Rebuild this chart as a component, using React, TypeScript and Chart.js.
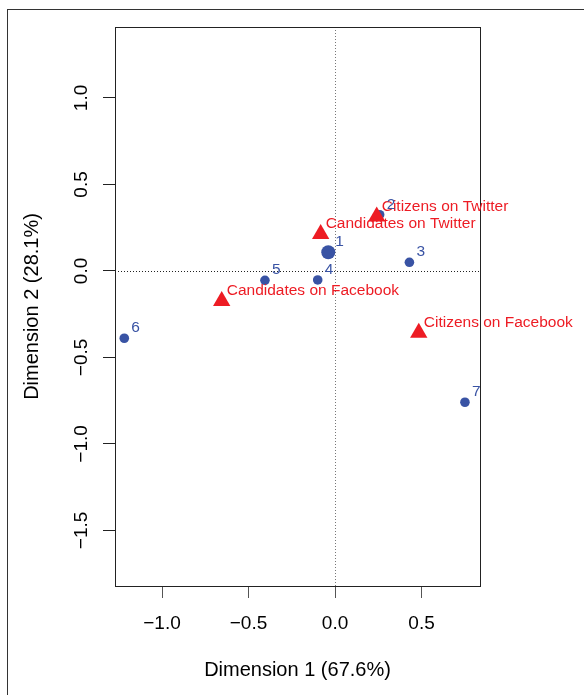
import { useEffect, useRef } from 'react';
import { Chart, registerables } from 'chart.js';

Chart.register(...registerables);

// Row points (blue)
const ROW_LABELS = ['1', '2', '3', '4', '5', '6', '7'];
const ROW_X = [-0.039, 0.258, 0.43, -0.1, -0.405, -1.218, 0.751];
const ROW_Y = [0.108, 0.325, 0.05, -0.052, -0.054, -0.389, -0.759];
const ROW_RADIUS = [7, 4.8, 4.8, 4.8, 4.8, 4.8, 4.8];

// Column points (red triangles)
const COL_LABELS = ['Candidates on Twitter', 'Citizens on Twitter', 'Candidates on Facebook', 'Citizens on Facebook'];
const COL_X = [-0.083, 0.241, -0.655, 0.484];
const COL_Y = [0.214, 0.314, -0.173, -0.357];

const X_TICKS = [-1, -0.5, 0, 0.5];
const Y_TICKS = [-1.5, -1, -0.5, 0, 0.5, 1];
const X_RANGE = [-1.2717, 0.838];
const Y_RANGE = [-1.821, 1.41];
const X_TITLE = 'Dimension 1 (67.6%)';
const Y_TITLE = 'Dimension 2 (28.1%)';

const BLUE = '#3953a4';
const RED = '#ed1c24';
const FONT = '"Liberation Sans", Arial, sans-serif';

const fmt = (v: number) => v.toFixed(1).replace('-', '\u2212');

export default function App() {
  const ref = useRef<HTMLCanvasElement | null>(null);

  useEffect(() => {
    if (!ref.current) return;

    const overlay = {
      id: 'overlay',
      beforeDatasetsDraw(chart: any) {
        const { ctx, chartArea: a, scales } = chart;
        const x0 = scales.x.getPixelForValue(0);
        const y0 = scales.y.getPixelForValue(0);
        ctx.save();
        ctx.lineWidth = 1;
        ctx.setLineDash([1, 2]);
        ctx.strokeStyle = '#777';
        ctx.beginPath();
        ctx.moveTo(Math.round(x0) + 0.5, a.top);
        ctx.lineTo(Math.round(x0) + 0.5, a.bottom);
        ctx.stroke();
        ctx.strokeStyle = '#222';
        ctx.beginPath();
        ctx.moveTo(a.left, Math.round(y0) + 0.5);
        ctx.lineTo(a.right, Math.round(y0) + 0.5);
        ctx.stroke();
        ctx.restore();
      },
      afterDraw(chart: any) {
        const { ctx, chartArea: a, scales } = chart;
        ctx.save();
        // box
        ctx.strokeStyle = '#222';
        ctx.lineWidth = 1;
        ctx.strokeRect(Math.round(a.left) + 0.5, Math.round(a.top) + 0.5, Math.round(a.right - a.left), Math.round(a.bottom - a.top));
        // y tick labels (rotated)
        ctx.fillStyle = '#000';
        ctx.font = `19px ${FONT}`;
        ctx.textAlign = 'center';
        ctx.textBaseline = 'alphabetic';
        Y_TICKS.forEach((v) => {
          const py = scales.y.getPixelForValue(v);
          ctx.save();
          ctx.translate(87, py);
          ctx.rotate(-Math.PI / 2);
          ctx.fillText(fmt(v), 0, 0);
          ctx.restore();
        });
        // point labels
        ctx.font = `15.5px ${FONT}`;
        ctx.textAlign = 'left';
        const colMeta = chart.getDatasetMeta(1);
        ctx.fillStyle = RED;
        colMeta.data.forEach((el: any, i: number) => {
          ctx.fillText(COL_LABELS[i], el.x + 5, el.y - 5.5);
        });
        const rowMeta = chart.getDatasetMeta(0);
        ctx.fillStyle = BLUE;
        rowMeta.data.forEach((el: any, i: number) => {
          ctx.fillText(ROW_LABELS[i], el.x + 7, el.y - 6);
        });
        ctx.restore();
      },
    };

    const chart = new Chart(ref.current, {
      type: 'scatter',
      data: {
        datasets: [
          {
            label: 'rows',
            data: ROW_X.map((x, i) => ({ x, y: ROW_Y[i] })),
            backgroundColor: BLUE,
            borderWidth: 0,
            pointRadius: ROW_RADIUS,
            pointHoverRadius: ROW_RADIUS,
            order: 2,
          },
          {
            label: 'columns',
            data: COL_X.map((x, i) => ({ x, y: COL_Y[i] })),
            backgroundColor: RED,
            borderWidth: 0,
            pointStyle: 'triangle',
            pointRadius: 10,
            pointHoverRadius: 10,
            order: 1,
          },
        ],
      },
      options: {
        responsive: false,
        animation: false,
        events: [],
        layout: { padding: { left: 0, top: 27, right: 104, bottom: 0 } },
        plugins: { legend: { display: false }, tooltip: { enabled: false } },
        scales: {
          x: {
            type: 'linear',
            min: X_RANGE[0],
            max: X_RANGE[1],
            afterBuildTicks: (s: any) => {
              s.ticks = X_TICKS.map((value) => ({ value }));
            },
            afterFit: (s: any) => {
              s.height = 109;
            },
            grid: { drawOnChartArea: false, tickLength: 12, color: '#555', lineWidth: 1 },
            border: { display: true, color: '#222' },
            ticks: {
              color: '#000',
              font: { size: 19, family: FONT },
              padding: 14,
              maxRotation: 0,
              callback: (v: any) => fmt(Number(v)),
            },
            title: {
              display: true,
              text: X_TITLE,
              color: '#000',
              font: { size: 20, family: FONT },
              padding: { top: 0, bottom: 13 },
            },
          },
          y: {
            type: 'linear',
            min: Y_RANGE[0],
            max: Y_RANGE[1],
            afterBuildTicks: (s: any) => {
              s.ticks = Y_TICKS.map((value) => ({ value }));
            },
            afterFit: (s: any) => {
              s.width = 115;
            },
            grid: { drawOnChartArea: false, tickLength: 12, color: '#222', lineWidth: 1 },
            border: { display: true, color: '#222' },
            ticks: { display: false },
            title: {
              display: true,
              text: Y_TITLE,
              color: '#000',
              font: { size: 20, family: FONT },
              padding: { top: 20, bottom: 0 },
            },
          },
        },
      },
      plugins: [overlay],
    });

    return () => chart.destroy();
  }, []);

  return (
    <div style={{ position: 'fixed', left: 0, top: 0, width: 584, height: 695, background: '#fff', overflow: 'hidden' }}>
      <div
        style={{
          position: 'absolute',
          left: 7,
          top: 9,
          width: 700,
          height: 800,
          borderLeft: '1px solid #333',
          borderTop: '1px solid #333',
        }}
      />
      <canvas ref={ref} width={584} height={695} style={{ position: 'absolute', left: 0, top: 0, width: 584, height: 695 }} />
    </div>
  );
}
